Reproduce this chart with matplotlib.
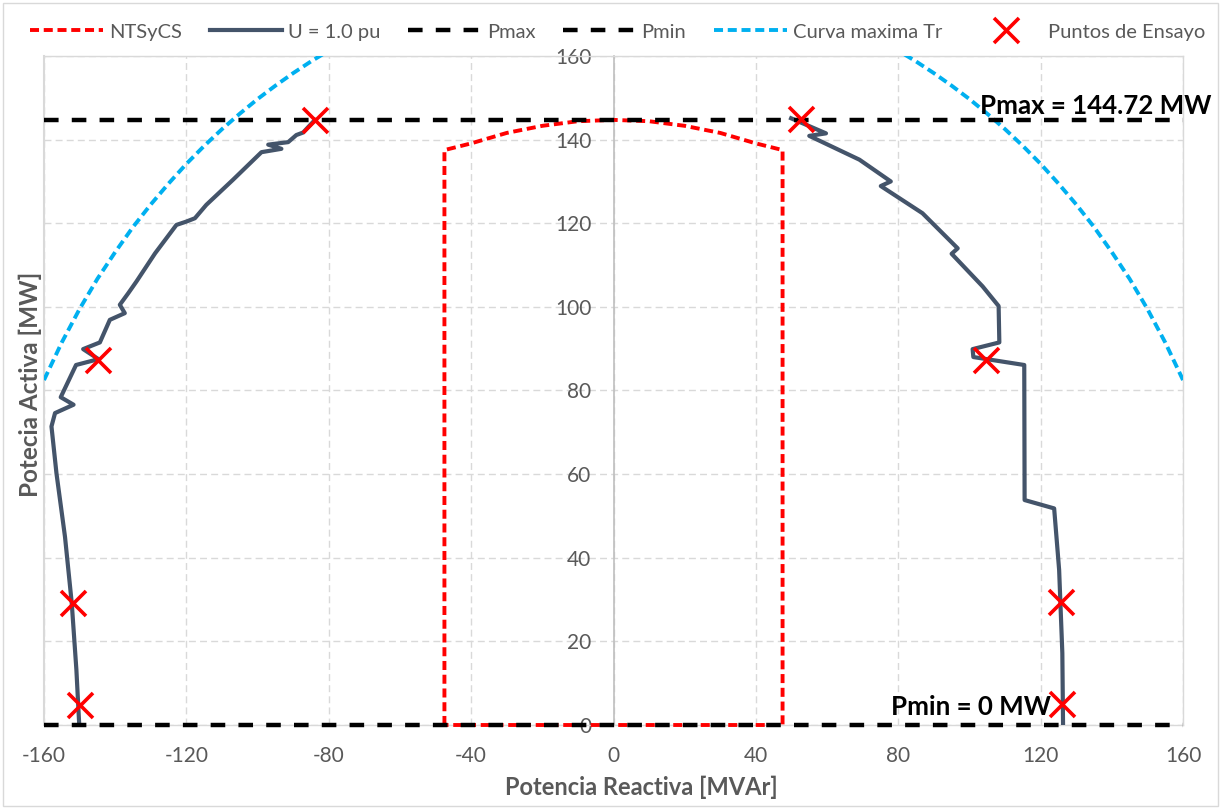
import matplotlib
matplotlib.use("Agg")
import matplotlib.pyplot as plt
from matplotlib.patches import Rectangle

plt.rcParams['font.family'] = ['Lato', 'DejaVu Sans']
plt.rcParams['lines.scale_dashes'] = False

# --- datos ---
# curva U = 1.0 pu (lado inductivo / capacitivo)
q_u_izq = [-150.1, -150.9, -152.2, -154.1, -156.5, -157.9, -156.9, -151.7, -155.3,
           -151.0, -144.7, -149.0, -144.3, -141.5, -137.3, -138.7, -136.3, -134.0,
           -128.8, -122.8, -120.0, -117.6, -114.4, -106.9, -98.9, -93.3, -97.0,
           -91.4, -89.1, -87.2, -83.9]
p_u_izq = [0, 13.2, 29.1, 45.0, 60.2, 71.4, 74.6, 76.6, 78.4,
           86.1, 87.5, 89.9, 91.5, 96.9, 98.5, 100.5, 103.3, 106.1,
           112.8, 119.6, 120.4, 121.2, 124.4, 130.4, 137.0, 137.8, 138.8,
           139.4, 141.1, 141.7, 144.7]
q_u_der = [126.3, 126.1, 125.2, 123.8, 115.5, 115.4, 101.1, 100.9, 108.4, 108.2,
           103.7, 95.0, 96.7, 86.8, 75.1, 77.9, 69.1, 55.0, 59.7, 49.9]
p_u_der = [0, 17.2, 37.1, 51.8, 53.8, 86.1, 88.0, 89.9, 91.5, 100.2,
           104.9, 112.7, 114.0, 122.4, 128.9, 130.0, 135.2, 140.9, 141.5, 145.1]

# NTSyCS
q_nts = [-47.5, -47.5, -40, -30, -20, -10, 0, 10, 20, 30, 40, 47.5, 47.5, -47.5]
p_nts = [0, 137.5, 139.1, 141.6, 143.3, 144.4, 144.72, 144.4, 143.3, 141.6, 139.1,
         137.5, 0, 0]

# curva maxima del transformador
q_tr_izq = [-160, -155, -150, -145, -140, -135, -130, -125, -120, -115, -110,
            -105, -100, -95, -90, -85, -81.5]
p_tr = [82.5, 91.5, 99.5, 106.7, 113.1, 119.1, 124.5, 129.5, 134.2, 138.5, 142.5,
        146.2, 149.7, 152.9, 155.9, 158.7, 160.5]
q_tr_der = [-q for q in q_tr_izq]

# limites
pmax = 144.72
pmin = 0
q_lim = [-160, 160]

# puntos de ensayo
q_ens = [-83.9, -144.7, -151.8, -149.9, 52.7, 104.6, 125.7, 126.1]
p_ens = [144.7, 87.4, 29.2, 4.8, 144.9, 87.3, 29.3, 5.0]

x_ticks = [-160, -120, -80, -40, 0, 40, 80, 120, 160]
y_ticks = [0, 20, 40, 60, 80, 100, 120, 140, 160]

# --- figura ---
W, H = 1221, 809
fig = plt.figure(figsize=(W / 100, H / 100), dpi=100)
ax = fig.add_axes([44 / W, (H - 725) / H, 1139 / W, 669 / H])

gris_txt = '#595959'
gris_borde = '#D9D9D9'
guion = (0, (6.5, 3.4))
guion_largo = (0, (10.5, 9.5))

ax.plot(q_nts, p_nts, color='#FF0000', lw=2.8, ls=guion, label='NTSyCS', zorder=3,
        clip_on=False)
ax.plot(q_u_izq, p_u_izq, color='#44546A', lw=3.0, label='U = 1.0 pu', zorder=4)
ax.plot(q_u_der, p_u_der, color='#44546A', lw=3.0, zorder=4)
ax.plot(q_lim, [pmax, pmax], color='black', lw=3.2, ls=guion_largo, label='Pmax', zorder=5)
ax.plot(q_lim, [pmin, pmin], color='black', lw=3.2, ls=guion_largo, label='Pmin', zorder=5,
        clip_on=False)
ax.plot(q_tr_izq, p_tr, color='#00B0F0', lw=2.8, ls=guion, label='Curva maxima Tr', zorder=3)
ax.plot(q_tr_der, p_tr, color='#00B0F0', lw=2.8, ls=guion, zorder=3)
ax.plot(q_ens, p_ens, ls='none', marker='x', color='#FF0000', ms=18, mew=2.6,
        label='Puntos de Ensayo', zorder=6, clip_on=False)

ax.text(168.1, 148.0, 'Pmax = 144.72 MW', ha='right', va='center', fontsize=18.6,
        fontweight='bold', color='black', clip_on=False, zorder=7)
ax.text(122.9, 4.4, 'Pmin = 0 MW', ha='right', va='center', fontsize=18.6,
        fontweight='bold', color='black', clip_on=False, zorder=7)

ax.set_xlim(-160, 160)
ax.set_ylim(0, 160)
ax.set_xticks(x_ticks)
ax.set_yticks(y_ticks)
ax.set_xticklabels([str(v) for v in x_ticks])
ax.set_yticklabels([str(v) for v in y_ticks])
ax.tick_params(axis='both', length=0, labelsize=15, labelcolor=gris_txt)
ax.tick_params(axis='y', pad=16)
ax.tick_params(axis='x', pad=15)

ax.grid(True, color=gris_borde, ls=(0, (5, 3)), lw=1)
ax.set_axisbelow(True)

for s in ['top', 'right', 'bottom']:
    ax.spines[s].set_color(gris_borde)
    ax.spines[s].set_linewidth(1)
ax.spines['left'].set_position(('data', 0))
ax.spines['left'].set_color('#BFBFBF')
ax.spines['left'].set_linewidth(1.2)
ax.axvline(-160, color=gris_borde, lw=1.5, zorder=1, clip_on=False)

fig.text(641 / W, 1 - 787 / H, 'Potencia Reactiva [MVAr]', ha='center', va='center',
         fontsize=17, fontweight='bold', color=gris_txt)
fig.text(30 / W, 1 - 384 / H, 'Potecia Activa [MW]', rotation=90, ha='center', va='center',
         fontsize=17.5, fontweight='bold', color=gris_txt)

# leyenda arriba
handles, labels = ax.get_legend_handles_labels()
leg = fig.legend(handles, labels, loc='center', bbox_to_anchor=(618 / W, 1 - 32 / H), ncol=6,
                 frameon=False, fontsize=14.5, handlelength=3.6, handletextpad=0.3,
                 columnspacing=1.38, borderaxespad=0)
for t in leg.get_texts():
    t.set_color(gris_txt)

fig.patches.append(Rectangle((3 / W, 3 / H), 1 - 6 / W, 1 - 6 / H, transform=fig.transFigure,
                             fill=False, edgecolor=gris_borde, lw=1))

fig.savefig('out.png', dpi=100)
